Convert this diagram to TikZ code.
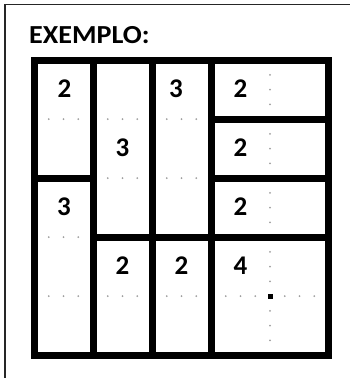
\documentclass[tikz,border=0pt]{standalone}
\usepackage{fontspec}
\setmainfont{Carlito}
\usetikzlibrary{positioning}

\begin{document}
\begin{tikzpicture}[x=1pt, y=-1pt,
  frame/.style={draw=black!85, line width=1.4pt},
  wall/.style={draw=black, line width=7pt},
  hint/.style={font=\fontsize{27}{27}\selectfont\bfseries, inner sep=0pt},
  pivot/.style={fill=black, inner sep=0pt, minimum size=5pt}]

  \useasboundingbox (0,0) rectangle (350,378);

  % table cell border (top and left only)
  \draw[frame] (350,4.5) -- (5,4.5) -- (5,378);

  \node[anchor=base west, font=\fontsize{26}{26}\selectfont\bfseries, inner sep=0pt,
        xscale=1.08] (title) at (29,43) {EXEMPLO:};

  % dotted cell edges inside the regions
  \foreach \y/\cx in {119/34, 119/93, 119/152, 178/93, 178/152, 237/34,
                      296/34, 296/93, 296/152, 296/211, 296/270}
    \foreach \d in {14.75, 29.5, 44.25}
      \fill[black!38] (\cx+\d,\y) circle (1pt);
  \foreach \cy in {60, 119, 178, 237, 296}
    \foreach \d in {14.75, 29.5, 44.25}
      \fill[black!38] (270,\cy+\d) circle (1pt);

  \node[pivot] (mid) at (270,296) {};

  % region walls
  \draw[wall] (34,60) rectangle (328.5,355.5);
  \draw[wall] (93,60) -- (93,355.5);
  \draw[wall] (152,60) -- (152,355.5);
  \draw[wall] (211,60) -- (211,355.5);
  \draw[wall] (211,119) -- (328.5,119);
  \draw[wall] (34,178) -- (93,178);
  \draw[wall] (211,178) -- (328.5,178);
  \draw[wall] (93,237) -- (328.5,237);

  % clues
  \node[hint] (a1) at (64.5,89)   {2};
  \node[hint] (c1) at (176,89)  {3};
  \node[hint] (d1) at (240.5,89) {2};
  \node[hint] (b2) at (122.5,148) {3};
  \node[hint] (d2) at (240.5,148) {2};
  \node[hint] (a3) at (64,207) {3};
  \node[hint] (d3) at (240.5,207) {2};
  \node[hint] (b4) at (122.5,266) {2};
  \node[hint] (c4) at (181.5,266) {2};
  \node[hint] (d4) at (240.5,266) {4};
\end{tikzpicture}
\end{document}
